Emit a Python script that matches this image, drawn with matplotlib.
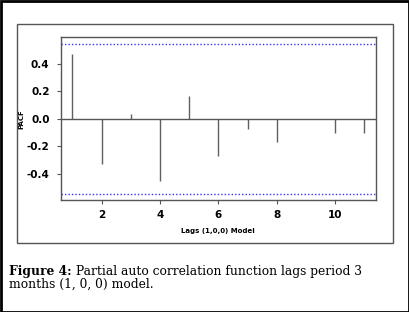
import numpy as np
import matplotlib.pyplot as plt
from matplotlib.patches import Rectangle

lags = [1, 2, 3, 4, 5, 6, 7, 8, 9, 10, 11]
pacf = [0.467, -0.33, 0.036, -0.448, 0.164, -0.267, -0.077, -0.166, -0.005, -0.105, -0.103]
conf = 0.544
xticks = [2, 4, 6, 8, 10]
yticks = [-0.4, -0.2, 0.0, 0.2, 0.4]

fig = plt.figure(figsize=(4.10, 3.12), dpi=100)
W, H = 410, 312

# outer black frame and inner grey box
fig.patches.append(Rectangle((0.5 / W, 0.5 / H), 1 - 1.5 / W, 1 - 1.5 / H,
                             transform=fig.transFigure, fill=False,
                             edgecolor="black", linewidth=2.0))
fig.patches.append(Rectangle((17 / W, 1 - 243 / H), (393 - 17) / W, (243 - 24) / H,
                             transform=fig.transFigure, fill=False,
                             edgecolor="#555555", linewidth=1.0))

ax = fig.add_axes([60.7 / W, 1 - 200.3 / H, (376 - 60.7) / W, (200.3 - 37.3) / H])
ax.vlines(lags, 0, pacf, color="#606060", linewidth=1.0)
ax.axhline(0, color="#555555", linewidth=1.0)
ax.axhline(conf, color="#3333ff", linewidth=1.0, linestyle=(0, (1, 1.5)))
ax.axhline(-conf, color="#3333ff", linewidth=1.0, linestyle=(0, (1, 1.5)))
ax.set_xlim(0.6, 11.4)
ax.set_ylim(-0.59, 0.59)
ax.set_xticks(xticks)
ax.set_yticks(yticks)
ax.set_yticklabels([f"{v:.1f}" for v in yticks])
ax.tick_params(labelsize=7.5, length=3, width=0.8, color="#555555", pad=5)
ax.tick_params(axis="x", pad=4)
for lbl in ax.get_xticklabels() + ax.get_yticklabels():
    lbl.set_fontweight("bold")
for s in ax.spines.values():
    s.set_color("#555555")
    s.set_linewidth(1.0)
ax.set_xlabel("Lags (1,0,0) Model", fontsize=5, fontweight="bold", labelpad=6)
ax.set_ylabel("PACF", fontsize=5, fontweight="bold", labelpad=2)

# caption: bold label followed by regular text
fs = 8.8
t1 = fig.text(9 / W, 1 - 275.5 / H, "Figure 4:", fontsize=fs, fontweight="bold",
              family="DejaVu Serif", va="baseline")
fig.canvas.draw()
bb = t1.get_window_extent(fig.canvas.get_renderer())
fig.text((bb.x1 + 4) / W, 1 - 275.5 / H, "Partial auto correlation function lags period 3",
         fontsize=fs, family="DejaVu Serif", va="baseline")
fig.text(9 / W, 1 - 288 / H, "months (1, 0, 0) model.", fontsize=fs,
         family="DejaVu Serif", va="baseline")

fig.savefig("out.png", dpi=100)
